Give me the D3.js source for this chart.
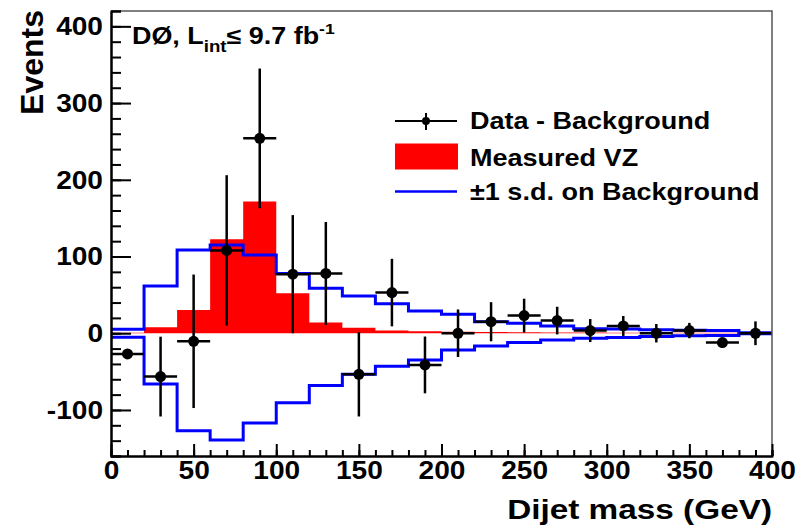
<!DOCTYPE html>
<html>
<head>
<meta charset="utf-8">
<script src="https://cdn.jsdelivr.net/npm/d3@7"></script>
<style>
body { margin: 0; background: #fff; }
text { font-family: "Liberation Sans", Arial, sans-serif; font-weight: bold; fill: #000; }
</style>
</head>
<body>
<script>
// bin centres (GeV), 20 GeV wide bins
var binCenters = [10, 30, 50, 70, 90, 110, 130, 150, 170, 190, 210, 230, 250, 270, 290, 310, 330, 350, 370, 390];
var dataValues = [-27, -56.5, -10.5, 108, 254, 77, 78, -53.5, 53, -41.3, 0, 15, 23, 16.5, 3.5, 9.5, 0, 3.5, -12.2, 0];
var dataErrors = [6, 52, 87, 98, 91, 77, 67, 55, 44, 37, 31, 25.5, 22, 18, 15, 13, 12, 10, 5, 15.5];
var vzValues = [0.5, 7.8, 30.4, 122.6, 171.6, 52.2, 14, 7.3, 3.5, 2.5, 2, 1.6, 1.3, 1.1, 0.9, 0.8, 0.7, 0.6, 0.5, 0];
var bkgUp = [5.2, 61.7, 108.6, 115, 102, 78, 58.7, 48.6, 38.5, 29, 24.7, 15.1, 13, 9.5, 6, 5.5, 4.5, 4, 3.5, 0.8];
var bkgDown = [-5.2, -66, -127, -139, -117, -90.5, -68, -53.5, -43, -34.8, -22, -16.5, -12, -8.7, -6.5, -5.7, -4.4, -3.2, -3, -0.8];
var xTicks = [0, 50, 100, 150, 200, 250, 300, 350, 400];
var yTicks = [-100, 0, 100, 200, 300, 400];
var legendLabels = ["Data - Background", "Measured VZ", "\u00b11 s.d. on Background"];

var halfBin = 10;
var margin = {top: 11, right: 33, bottom: 69, left: 111};
var w = 805 - margin.left - margin.right;
var h = 525 - margin.top - margin.bottom;

var svg = d3.select('body').append('svg')
    .attr('width', 805)
    .attr('height', 525);

var g = svg.append('g')
    .attr('transform', 'translate(' + margin.left + ',' + margin.top + ')');

var x = d3.scaleLinear().domain([0, 400]).range([0, w]);
var y = d3.scaleLinear().domain([-160, 420]).range([h, 0]);

// turn a per-bin series into step points
function steps(vals) {
    var pts = [];
    binCenters.forEach((c, i) => {
        pts.push([c - halfBin, vals[i]]);
        pts.push([c + halfBin, vals[i]]);
    });
    return pts;
}

var area = d3.area()
    .x((d) => x(d[0]))
    .y0(y(0))
    .y1((d) => y(d[1]));

var line = d3.line()
    .x((d) => x(d[0]))
    .y((d) => y(d[1]));

// measured VZ (red filled histogram)
g.append('path')
    .attr('d', area(steps(vzValues)))
    .attr('fill', '#ff0000');

// +-1 s.d. background
[bkgUp, bkgDown].forEach((s) => {
    g.append('path')
        .attr('d', line(steps(s)))
        .attr('fill', 'none')
        .attr('stroke', '#0000ff')
        .attr('stroke-width', 3);
});

// data - background
var pts = g.selectAll('.pt')
    .data(binCenters.map((c, i) => ({c: c, v: dataValues[i], e: dataErrors[i]})))
    .enter()
    .append('g')
    .attr('class', 'pt');

pts.append('line')
    .attr('x1', (d) => x(d.c - halfBin))
    .attr('x2', (d) => x(d.c + halfBin))
    .attr('y1', (d) => y(d.v))
    .attr('y2', (d) => y(d.v))
    .attr('stroke', '#000')
    .attr('stroke-width', 2.5);

pts.append('line')
    .attr('x1', (d) => x(d.c))
    .attr('x2', (d) => x(d.c))
    .attr('y1', (d) => y(d.v - d.e))
    .attr('y2', (d) => y(d.v + d.e))
    .attr('stroke', '#000')
    .attr('stroke-width', 2.5);

pts.append('circle')
    .attr('cx', (d) => x(d.c))
    .attr('cy', (d) => y(d.v))
    .attr('r', 5.5)
    .attr('fill', '#000');

// frame (top / right)
g.append('path')
    .attr('d', 'M0,0H' + w + 'V' + h)
    .attr('fill', 'none')
    .attr('stroke', '#555')
    .attr('stroke-width', 1.5);

// axes
var fmt = (d) => String(d);
var yMinor = g.append('g')
    .call(d3.axisLeft(y).tickValues(d3.range(-160, 421, 20)).tickSize(-10).tickFormat(''));
var yMajor = g.append('g')
    .call(d3.axisLeft(y).tickValues(yTicks).tickSizeInner(-20).tickSizeOuter(0).tickPadding(8).tickFormat(fmt));
var xMinor = g.append('g')
    .attr('transform', 'translate(0,' + h + ')')
    .call(d3.axisBottom(x).tickValues(d3.range(0, 401, 10)).tickSize(-6).tickFormat(''));
var xMajor = g.append('g')
    .attr('transform', 'translate(0,' + h + ')')
    .call(d3.axisBottom(x).tickValues(xTicks).tickSizeInner(-12).tickSizeOuter(0).tickPadding(5).tickFormat(fmt));

[yMinor, yMajor, xMinor, xMajor].forEach((a) => {
    a.selectAll('line').attr('stroke', '#000').attr('stroke-width', 2);
    a.select('.domain').attr('stroke', '#000').attr('stroke-width', 2);
});
[yMajor, xMajor].forEach((a) => {
    a.selectAll('text')
        .attr('font-family', '"Liberation Sans", Arial, sans-serif')
        .attr('font-weight', 'bold')
        .attr('font-size', 26)
        .attr('fill', '#000');
});

// the original font runs wide: stretch tick labels horizontally
svg.selectAll('.tick text').each(function () {
    var t = this.getComputedTextLength();
    if (t > 0) d3.select(this).attr('textLength', t * 1.08).attr('lengthAdjust', 'spacingAndGlyphs');
});

// axis titles
svg.append('text')
    .attr('transform', 'translate(43,10) rotate(-90)')
    .attr('text-anchor', 'end')
    .attr('font-size', 32)
    .text('Events');

svg.append('g')
    .attr('transform', 'translate(772,519) scale(1.17,1)')
    .append('text')
    .attr('text-anchor', 'end')
    .attr('font-size', 28.5)
    .text('Dijet mass (GeV)');

// experiment label
var title = svg.append('g')
    .attr('transform', 'translate(132,43.5) scale(1.17,1)')
    .append('text')
    .attr('font-size', 23);
title.append('tspan').text('D\u00d8, L');
title.append('tspan').attr('dy', 8).attr('font-size', 16).text('int');
title.append('tspan').attr('dy', -8).text('\u2264 9.7 fb');
title.append('tspan').attr('dy', -10).attr('font-size', 15).text('-1');

// legend
var leg = svg.append('g');
leg.append('line')
    .attr('x1', 395).attr('x2', 457).attr('y1', 121).attr('y2', 121)
    .attr('stroke', '#000').attr('stroke-width', 2);
leg.append('line')
    .attr('x1', 426).attr('x2', 426).attr('y1', 113).attr('y2', 130)
    .attr('stroke', '#000').attr('stroke-width', 2);
leg.append('circle')
    .attr('cx', 426).attr('cy', 121).attr('r', 4)
    .attr('fill', '#000');
leg.append('rect')
    .attr('x', 395).attr('y', 143.5).attr('width', 63).attr('height', 26)
    .attr('fill', '#ff0000');
leg.append('line')
    .attr('x1', 395).attr('x2', 457).attr('y1', 191.5).attr('y2', 191.5)
    .attr('stroke', '#0000ff').attr('stroke-width', 2.5);

var legBase = [129, 165.5, 200];
legendLabels.forEach((s, i) => {
    leg.append('g')
        .attr('transform', 'translate(470,' + legBase[i] + ') scale(1.15,1)')
        .append('text')
        .attr('font-size', 23.5)
        .text(s);
});
</script>
</body>
</html>
